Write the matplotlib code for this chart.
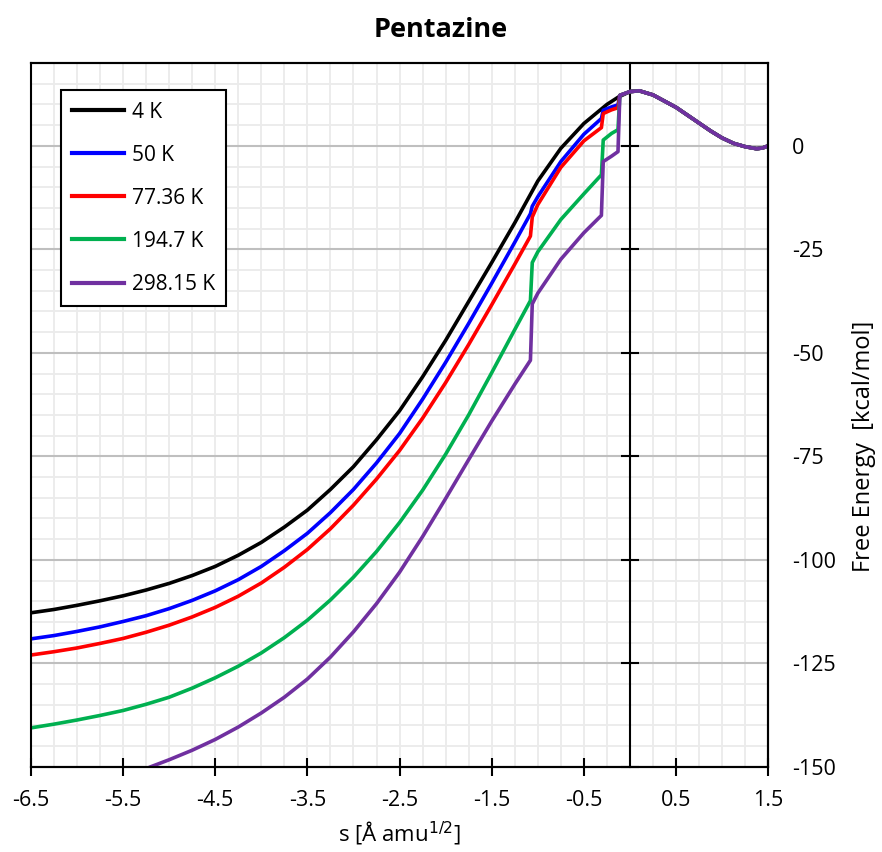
import matplotlib
matplotlib.use("Agg")
import matplotlib.pyplot as plt
import matplotlib.ticker as mticker

plt.rcParams["font.family"] = ["Open Sans", "DejaVu Sans"]
plt.rcParams["axes.unicode_minus"] = False

# ── DATA ────────────────────────────────────────────────────
# Free energy profiles along the reaction coordinate s, one per temperature.
# Left branches differ by temperature; past s = 0 all curves share one tail.
temps = ["4 K", "50 K", "77.36 K", "194.7 K", "298.15 K"]
colors = ["#000000", "#0000ff", "#ff0000", "#00b050", "#7030a0"]

s_4K = [-6.5, -6.25, -6.0, -5.75, -5.5, -5.25, -5.0, -4.75, -4.5, -4.25,
        -4.0, -3.75, -3.5, -3.25, -3.0, -2.75, -2.5, -2.25, -2.0, -1.75,
        -1.5, -1.25, -1.0, -0.75, -0.5, -0.25, -0.125]
g_4K = [-112.8, -112.0, -111.0, -109.9, -108.7, -107.3, -105.7, -103.8,
        -101.6, -98.9, -95.8, -92.1, -88.0, -83.0, -77.5, -71.0, -64.0, -55.8,
        -47.0, -37.6, -28.2, -18.6, -8.5, -0.6, 5.4, 10.0, 11.8]

s_branch = [-6.5, -6.25, -6.0, -5.75, -5.5, -5.25, -5.0, -4.75, -4.5, -4.25,
            -4.0, -3.75, -3.5, -3.25, -3.0, -2.75, -2.5, -2.25, -2.0, -1.75,
            -1.5, -1.25, -1.08, -1.06, -1.0, -0.75, -0.5, -0.31, -0.29, -0.2,
            -0.13, -0.11]
g_50K = [-119.1, -118.3, -117.3, -116.2, -114.9, -113.5, -111.8, -109.8,
         -107.5, -104.8, -101.6, -97.8, -93.6, -88.6, -83.0, -76.6, -69.5,
         -61.2, -52.3, -42.9, -33.2, -23.3, -16.4, -14.6, -12.3, -3.8, 2.8,
         6.6, 8.6, 9.4, 9.9, 12.2]
g_77K = [-123.0, -122.2, -121.3, -120.2, -119.0, -117.5, -115.8, -113.8,
         -111.5, -108.8, -105.6, -101.8, -97.5, -92.5, -86.8, -80.5, -73.6,
         -65.8, -57.2, -48.0, -38.4, -28.6, -21.8, -17.2, -14.2, -5.2, 1.2,
         4.4, 7.8, 8.7, 9.2, 12.2]
g_195K = [-140.6, -139.7, -138.7, -137.6, -136.4, -134.9, -133.2, -131.0,
          -128.5, -125.7, -122.5, -118.8, -114.6, -109.7, -104.2, -98.0,
          -91.0, -83.2, -74.5, -65.0, -54.8, -44.4, -37.4, -28.2, -25.6, -17.8,
          -11.6, -7.0, 1.4, 3.0, 3.9, 12.2]

s_298K = [-5.2, -5.0, -4.75, -4.5, -4.25, -4.0, -3.75, -3.5, -3.25, -3.0,
          -2.75, -2.5, -2.25, -2.0, -1.75, -1.5, -1.25, -1.08, -1.06, -1.0,
          -0.75, -0.5, -0.31, -0.29, -0.2, -0.13, -0.11]
g_298K = [-150.0, -148.3, -146.0, -143.4, -140.4, -137.0, -133.2, -128.8,
          -123.5, -117.4, -110.6, -103.0, -94.4, -85.2, -75.8, -66.5, -57.6,
          -51.8, -38.2, -35.6, -27.4, -21.0, -16.8, -3.8, -2.5, -1.4, 12.2]

# shared right-hand tail (barrier top and product well)
s_tail = [0.0, 0.1, 0.25, 0.375, 0.5, 0.625, 0.75, 0.875, 1.0, 1.125, 1.25,
          1.375, 1.44, 1.5]
g_tail = [13.1, 13.3, 12.3, 10.8, 9.3, 7.4, 5.5, 3.6, 1.9, 0.6, -0.2, -0.7,
          -0.5, 0.0]

x_ticks = [-6.5, -5.5, -4.5, -3.5, -2.5, -1.5, -0.5, 0.5, 1.5]
y_ticks = [0, -25, -50, -75, -100, -125, -150]

series = [
    (s_4K, g_4K),
    (s_branch, g_50K),
    (s_branch, g_77K),
    (s_branch, g_195K),
    (s_298K, g_298K),
]

# ── PLOT ────────────────────────────────────────────────────
fig = plt.figure(figsize=(8.82, 8.52), dpi=100)
ax = fig.add_axes([0.035, 0.100, 0.836, 0.826])

for (s, g), label, c in zip(series, temps, colors):
    ax.plot(s + s_tail, g + g_tail, color=c, lw=2.6, label=label, zorder=3,
            solid_joinstyle="round")

ax.set_xlim(-6.5, 1.5)
ax.set_ylim(-150, 20)

# grid: light minor mesh, grey major horizontals
ax.set_axisbelow(True)
ax.xaxis.set_major_locator(mticker.FixedLocator(x_ticks))
ax.xaxis.set_minor_locator(mticker.MultipleLocator(0.25))
ax.yaxis.set_major_locator(mticker.FixedLocator(y_ticks))
ax.yaxis.set_minor_locator(mticker.MultipleLocator(5))
ax.grid(axis="both", which="minor", color="#ebebeb", lw=1.3)
ax.grid(axis="x", which="major", color="#ebebeb", lw=1.3)
ax.grid(axis="y", which="major", color="#bfbfbf", lw=1.5)
ax.tick_params(which="minor", length=0)

# y axis line sits at s = 0, with crossing tick marks
ax.spines["left"].set_position(("data", 0))
for side in ["left", "right", "top", "bottom"]:
    ax.spines[side].set_color("black")
    ax.spines[side].set_linewidth(1.5)
ax.tick_params(axis="y", which="major", direction="inout", length=13,
               width=1.5, labelleft=False)
ax.tick_params(axis="x", which="major", direction="inout", length=13,
               width=1.5, labelsize=15.5, pad=10)
ax.set_xticklabels([f"{v:g}" for v in x_ticks])
ax.set_xlabel("s [Å amu$^{1/2}$]", fontsize=16, labelpad=6)

# tick labels on the right edge
ax2 = ax.twinx()
ax2.set_ylim(-150, 20)
ax2.set_yticks(y_ticks)
ax2.set_yticklabels([f"{v:g}" for v in y_ticks])
ax2.tick_params(axis="y", length=0, labelsize=15.5, pad=17)
for side in ["left", "right", "top", "bottom"]:
    ax2.spines[side].set_color("black")
    ax2.spines[side].set_linewidth(1.5)
ax2.set_ylabel("Free Energy  [kcal/mol]", fontsize=17, labelpad=12, y=0.455)

fig.text(0.5, 0.965, "Pentazine", fontsize=19.5, fontweight="bold",
         ha="center", va="center")

leg = ax.legend(loc="upper left", bbox_to_anchor=(0.0407, 0.9616),
                borderaxespad=0, fontsize=15, handlelength=2.5,
                handletextpad=0.35, labelspacing=1.06, borderpad=0.55,
                fancybox=False, framealpha=1, edgecolor="black")
leg.get_frame().set_linewidth(1.5)
for h in leg.get_lines():
    h.set_linewidth(3)

fig.savefig("out.png", dpi=100, facecolor="white")
